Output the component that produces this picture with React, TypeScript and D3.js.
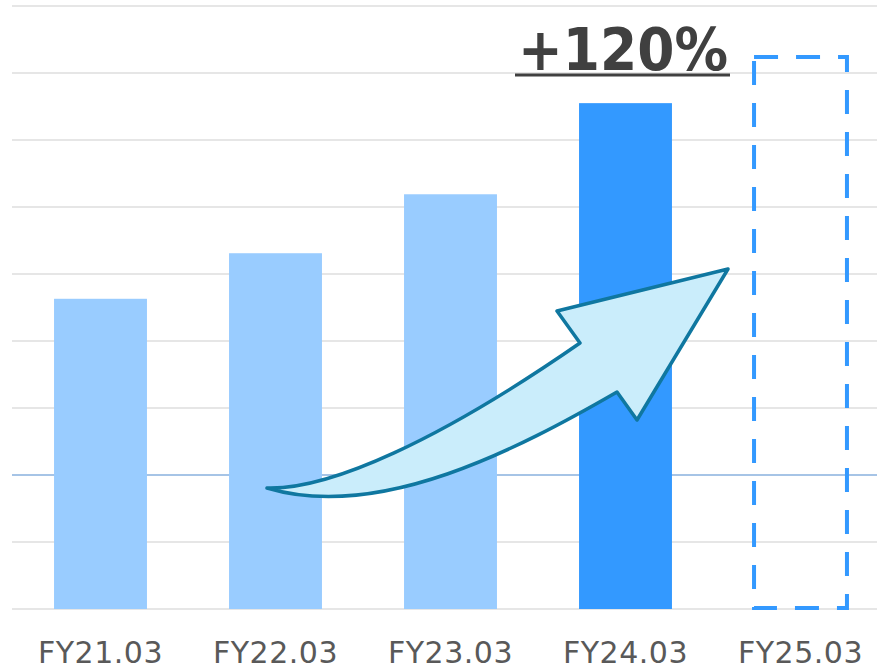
import React from "react";
import * as d3 from "d3";

const categories = ["FY21.03", "FY22.03", "FY23.03", "FY24.03", "FY25.03"];
const values = [4.63, 5.31, 6.19, 7.55, 8.24];
const barKinds = ["past", "past", "past", "current", "target"];
const gridTicks = [0, 1, 2, 3, 4, 5, 6, 7, 8, 9];
const highlightTick = 2;
const growthLabel = "+120%";

const W = 877;
const H = 671;

export default function App() {
  const x = d3.scaleBand<string>().domain(categories).range([13, 888]).paddingInner(0.469).paddingOuter(0.2345);
  const y = d3.scaleLinear().domain([0, 9]).range([609, 6]);
  const bw = x.bandwidth();

  const colors: Record<string, string> = { past: "#99ccff", current: "#3399ff", target: "#3399ff" };

  // decorative curved block arrow (annotation)
  const p = d3.path();
  p.moveTo(267, 488);
  p.bezierCurveTo(330, 490, 440, 440, 580, 343);
  p.lineTo(557, 311);
  p.lineTo(728, 269);
  p.lineTo(637, 420);
  p.lineTo(617, 392);
  p.bezierCurveTo(520, 448, 380, 522, 267, 488);
  p.closePath();

  return (
    <svg width={W} height={H} style={{ position: "absolute", left: 0, top: 0, background: "#fff" }}>
      {gridTicks.map((t) => (
        <line
          key={t}
          x1={12}
          x2={W}
          y1={y(t)}
          y2={y(t)}
          stroke={t === highlightTick ? "#a6c4e6" : "#e6e6e6"}
          strokeWidth={2}
        />
      ))}
      {categories.map((c, i) =>
        barKinds[i] === "target" ? (
          <rect
            key={c}
            x={x(c)!}
            y={y(values[i])}
            width={bw}
            height={y(0) - y(values[i]) - 1}
            fill="none"
            stroke={colors.target}
            strokeWidth={4}
            strokeDasharray="24 18"
          />
        ) : (
          <rect key={c} x={x(c)!} y={y(values[i])} width={bw} height={y(0) - y(values[i])} fill={colors[barKinds[i]]} />
        )
      )}
      {categories.map((c) => (
        <text
          key={c}
          x={x(c)! + bw / 2}
          y={663}
          textAnchor="middle"
          fontFamily="DejaVu Sans, Verdana, sans-serif"
          fontSize={30}
          letterSpacing={0.5}
          fill="#595959"
        >
          {c}
        </text>
      ))}
      <path d={p.toString()} fill="#caedfb" stroke="#0f77a0" strokeWidth={3.5} strokeLinejoin="round" />
      <text
        x={518}
        y={70}
        fontFamily="DejaVu Sans, Verdana, sans-serif"
        fontWeight="bold"
        fontSize={58}
        textLength={210}
        lengthAdjust="spacingAndGlyphs"
        fill="#404040"
      >
        {growthLabel}
      </text>
      <line x1={515} x2={730} y1={75} y2={75} stroke="#404040" strokeWidth={3} />
    </svg>
  );
}
